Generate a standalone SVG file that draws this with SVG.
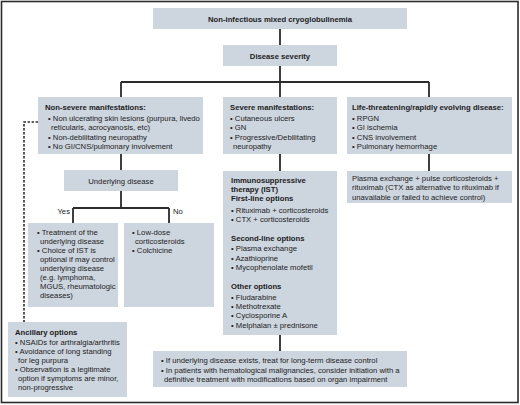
<svg xmlns="http://www.w3.org/2000/svg" width="520" height="405" viewBox="0 0 520 405">
<style>
.box{fill:#cdd5df;}
.t{font-family:"Liberation Sans",Arial,sans-serif;font-size:7.7px;fill:#1c1c1c;}
.b{font-weight:bold;}
.c{text-anchor:middle;}
.ln{stroke:#2b2b2b;stroke-width:1.8;fill:none;}
.dash{stroke:#2b2b2b;stroke-width:1.6;fill:none;stroke-dasharray:2.4 1.6;}
</style>
<rect x="0" y="0" width="520" height="405" fill="#ffffff"/>
<rect x="1.5" y="1.5" width="516.5" height="401" fill="none" stroke="#2b2b2b" stroke-width="1.6"/>
<g id="connectors">
<path class="ln" d="M280,29V45M280,66V97M121,82H429M121,82V97M429,82V97"/>
<path class="ln" d="M121,154V170M121,191V208M73,208H169M73,208V223M169,208V223"/>
<path class="ln" d="M280,154V171M429,154V171M280,335V351"/>
<path class="dash" d="M38,122H24V322"/>
</g>
<g id="n-top"><rect class="box" x="153" y="8" width="254" height="21"/>
<text class="t b c" x="280" y="21.5">Non-infectious mixed cryoglobulinemia</text></g>
<g id="n-severity"><rect class="box" x="223" y="45" width="114" height="21"/>
<text class="t b c" x="280" y="58.5">Disease severity</text></g>
<g id="n-nonsevere"><rect class="box" x="38" y="97" width="165" height="57"/>
<text class="t" x="45" y="110"><tspan class="b">Non-severe manifestations:</tspan>
<tspan x="48" y="121">• Non ulcerating skin lesions (purpura, livedo</tspan>
<tspan x="51" y="130">reticularis, acrocyanosis, etc)</tspan>
<tspan x="48" y="139.5">• Non-debilitating neuropathy</tspan>
<tspan x="48" y="149">• No GI/CNS/pulmonary involvement</tspan></text></g>
<g id="n-severe"><rect class="box" x="223" y="97" width="114" height="57"/>
<text class="t" x="230" y="110"><tspan class="b">Severe manifestations:</tspan>
<tspan x="230" y="121">• Cutaneous ulcers</tspan>
<tspan x="230" y="130">• GN</tspan>
<tspan x="230" y="139.5">• Progressive/Debilitating</tspan>
<tspan x="233" y="149">neuropathy</tspan></text></g>
<g id="n-life"><rect class="box" x="347" y="97" width="165" height="57"/>
<text class="t" x="352" y="110"><tspan class="b">Life-threatening/rapidly evolving disease:</tspan>
<tspan x="352" y="121">• RPGN</tspan>
<tspan x="352" y="130">• GI ischemia</tspan>
<tspan x="352" y="139.5">• CNS involvement</tspan>
<tspan x="352" y="149">• Pulmonary hemorrhage</tspan></text></g>
<g id="n-plasma"><rect class="box" x="347" y="171" width="165" height="32"/>
<text class="t" x="352" y="180.5"><tspan>Plasma exchange + pulse corticosteroids +</tspan>
<tspan x="352" y="190">rituximab (CTX as alternative to rituximab if</tspan>
<tspan x="352" y="199.5">unavailable or failed to achieve control)</tspan></text></g>
<g id="n-underlying"><rect class="box" x="64" y="170" width="114" height="21"/>
<text class="t c" x="121" y="183.5">Underlying disease</text></g>
<g id="l-yes"><text class="t" x="70" y="214" text-anchor="end">Yes</text></g>
<g id="l-no"><text class="t" x="173" y="214">No</text></g>
<g id="n-yes"><rect class="box" x="28" y="223" width="90" height="84"/>
<text class="t" x="37" y="235"><tspan>• Treatment of the</tspan>
<tspan x="40" y="244">underlying disease</tspan>
<tspan x="37" y="253">• Choice of IST is</tspan>
<tspan x="40" y="262">optional if may control</tspan>
<tspan x="40" y="271">underlying disease</tspan>
<tspan x="40" y="280">(e.g. lymphoma,</tspan>
<tspan x="40" y="289">MGUS, rheumatologic</tspan>
<tspan x="40" y="298">diseases)</tspan></text></g>
<g id="n-no"><rect class="box" x="124" y="223" width="90" height="84"/>
<text class="t" x="132" y="235"><tspan>• Low-dose</tspan>
<tspan x="135" y="244">corticosteroids</tspan>
<tspan x="132" y="253">• Colchicine</tspan></text></g>
<g id="n-ist"><rect class="box" x="223" y="171" width="114" height="164"/>
<text class="t" x="231" y="183"><tspan class="b">Immunosuppressive</tspan>
<tspan class="b" x="231" y="192">therapy (IST)</tspan>
<tspan class="b" x="231" y="201">First-line options</tspan>
<tspan x="231" y="213">• Rituximab + corticosteroids</tspan>
<tspan x="231" y="222">• CTX + corticosteroids</tspan>
<tspan class="b" x="231" y="241">Second-line options</tspan>
<tspan x="231" y="251">• Plasma exchange</tspan>
<tspan x="231" y="260.5">• Azathioprine</tspan>
<tspan x="231" y="270">• Mycophenolate mofetil</tspan>
<tspan class="b" x="231" y="289">Other options</tspan>
<tspan x="231" y="299.5">• Fludarabine</tspan>
<tspan x="231" y="309">• Methotrexate</tspan>
<tspan x="231" y="318">• Cyclosporine A</tspan>
<tspan x="231" y="327.5">• Melphalan ± prednisone</tspan></text></g>
<g id="n-bottom"><rect class="box" x="153" y="351" width="254" height="36"/>
<text class="t" x="161" y="363"><tspan>• If underlying disease exists, treat for long-term disease control</tspan>
<tspan x="161" y="372.5">• In patients with hematological malignancies, consider initiation with a</tspan>
<tspan x="164" y="382">definitive treatment with modifications based on organ impairment</tspan></text></g>
<g id="n-ancillary"><rect class="box" x="8" y="322" width="119" height="75"/>
<text class="t" x="15" y="335"><tspan class="b">Ancillary options</tspan>
<tspan x="15" y="344.5">• NSAIDs for arthralgia/arthritis</tspan>
<tspan x="15" y="353.5">• Avoidance of long standing</tspan>
<tspan x="18" y="362.5">for leg purpura</tspan>
<tspan x="15" y="372">• Observation is a legitimate</tspan>
<tspan x="18" y="381">option if symptoms are minor,</tspan>
<tspan x="18" y="390">non-progressive</tspan></text></g>
</svg>
